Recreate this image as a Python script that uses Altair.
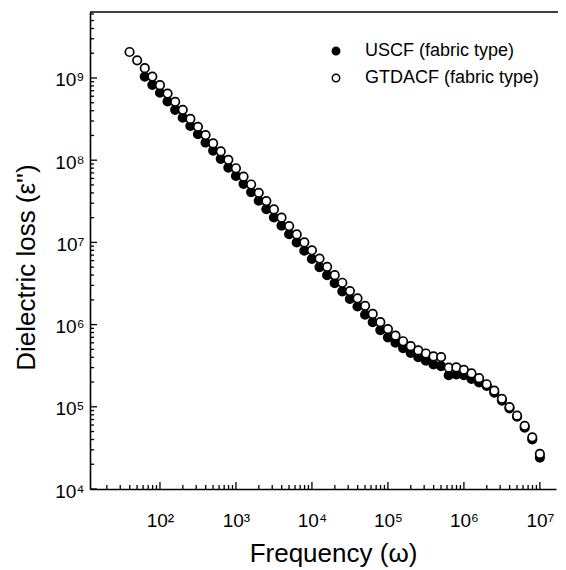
import altair as alt
import pandas as pd

# Frequencies (omega), 10 points per decade
freq = [39.8, 50.1, 63.1, 79.4,
        100, 125.9, 158.5, 199.5, 251.2, 316.2, 398.1, 501.2, 631.0, 794.3,
        1.0e3, 1.259e3, 1.585e3, 1.995e3, 2.512e3, 3.162e3, 3.981e3, 5.012e3, 6.310e3, 7.943e3,
        1.0e4, 1.259e4, 1.585e4, 1.995e4, 2.512e4, 3.162e4, 3.981e4, 5.012e4, 6.310e4, 7.943e4,
        1.0e5, 1.259e5, 1.585e5, 1.995e5, 2.512e5, 3.162e5, 3.981e5, 5.012e5, 6.310e5, 7.943e5,
        1.0e6, 1.259e6, 1.585e6, 1.995e6, 2.512e6, 3.162e6, 3.981e6, 5.012e6, 6.310e6, 7.943e6,
        1.0e7]

# GTDACF (open circles), all 55 frequencies
gtdacf = [2.07e9, 1.64e9, 1.315e9, 1.04e9,
          8.17e8, 6.47e8, 5.13e8, 4.10e8, 3.18e8, 2.55e8, 2.02e8, 1.60e8, 1.28e8, 1.01e8,
          7.98e7, 6.31e7, 5.06e7, 4.01e7, 3.18e7, 2.52e7, 2.00e7, 1.58e7, 1.25e7, 1.00e7,
          8.02e6, 6.35e6, 5.04e6, 3.99e6, 3.23e6, 2.56e6, 2.09e6, 1.69e6, 1.35e6, 1.07e6,
          8.81e5, 7.33e5, 6.27e5, 5.47e5, 4.85e5, 4.45e5, 4.10e5, 4.03e5, 2.99e5, 3.01e5,
          2.82e5, 2.55e5, 2.23e5, 1.88e5, 1.57e5, 1.25e5, 9.93e4, 7.80e4, 5.87e4, 4.25e4,
          2.67e4]

# USCF (filled circles), starting at the third frequency
uscf_freq = freq[2:]
uscf = [1.04e9, 8.26e8,
        6.61e8, 5.18e8, 4.10e8, 3.29e8, 2.61e8, 2.07e8, 1.64e8, 1.31e8, 1.04e8, 8.13e7,
        6.44e7, 5.16e7, 4.09e7, 3.21e7, 2.54e7, 2.01e7, 1.60e7, 1.26e7, 1.00e7, 7.94e6,
        6.30e6, 4.99e6, 3.99e6, 3.19e6, 2.53e6, 2.05e6, 1.66e6, 1.32e6, 1.07e6, 8.57e5,
        7.00e5, 6.01e5, 5.18e5, 4.53e5, 4.02e5, 3.63e5, 3.28e5, 3.12e5, 2.42e5, 2.47e5,
        2.42e5, 2.19e5, 1.98e5, 1.79e5, 1.49e5, 1.19e5, 9.55e4, 7.57e4, 5.58e4, 4.00e4,
        2.41e4]

series_names = ["USCF (fabric type)", "GTDACF (fabric type)"]

x_major = [1e2, 1e3, 1e4, 1e5, 1e6, 1e7]
x_minor = [m * 10 ** k for k in range(1, 7) for m in range(2, 10)]
y_major = [1e4, 1e5, 1e6, 1e7, 1e8, 1e9]
y_minor = [m * 10 ** k for k in range(4, 10) for m in range(2, 10) if m * 10 ** k < 6.3e9]

df = pd.DataFrame({
    "freq": list(uscf_freq) + list(freq),
    "loss": uscf + gtdacf,
    "series": [series_names[0]] * len(uscf) + [series_names[1]] * len(gtdacf),
})

W, H = 466, 477
FONT = "Liberation Sans"
xscale = alt.Scale(type="log", domain=[12.0, 1.63e7], nice=False)
yscale = alt.Scale(type="log", domain=[1e4, 6.35e9], nice=False)

sups = {2: "\u00b2", 3: "\u00b3", 4: "\u2074", 5: "\u2075", 6: "\u2076",
        7: "\u2077", 8: "\u2078", 9: "\u2079"}
label_expr = ""
for k in range(2, 10):
    label_expr += f"datum.value < {1.5 * 10 ** k} ? '10{sups[k]}' : "
label_expr += "''"

xaxis = alt.Axis(
    values=x_major, labelExpr=label_expr, ticks=False, grid=False,
    domainColor="black", domainWidth=1.6, labelFontSize=19, labelColor="black",
    labelBaseline="alphabetic", labelPadding=37, labelFlush=False,
    title="Frequency (\u03c9)", titleFontSize=26, titleFontWeight="normal",
    titleColor="black", titleBaseline="alphabetic", titleX=243, titleY=72,
    titleAlign="center")
yaxis = alt.Axis(
    values=y_major, labelExpr=label_expr, ticks=False, grid=False,
    domainColor="black", domainWidth=1.6, labelFontSize=19, labelColor="black",
    labelBaseline="alphabetic", labelOffset=8, labelPadding=6, labelFlush=False,
    title="Dielectric loss (\u03b5'')", titleFontSize=26, titleFontWeight="normal",
    titleColor="black", titleBaseline="alphabetic", titleAngle=-90,
    titleX=-56, titleY=255, titleAlign="center")

points = alt.Chart(df).mark_point(
    filled=True, size=72, stroke="black", strokeWidth=1.7, opacity=1
).encode(
    x=alt.X("freq:Q", scale=xscale, axis=xaxis),
    y=alt.Y("loss:Q", scale=yscale, axis=yaxis),
    fill=alt.Fill("series:N", scale=alt.Scale(domain=series_names, range=["black", "white"]),
                  legend=alt.Legend(title=None, orient="none", legendX=237, legendY=30,
                                    labelFontSize=18, labelFont=FONT, labelColor="black",
                                    labelLimit=0,
                                    symbolType="circle", symbolSize=55, symbolStrokeWidth=1.5,
                                    symbolStrokeColor="black", rowPadding=9, labelOffset=20)),
)

def xticks(vals, length):
    return alt.Chart(pd.DataFrame({"freq": vals})).mark_rule(color="black", strokeWidth=1.3).encode(
        x=alt.X("freq:Q", scale=xscale, axis=xaxis), y=alt.value(H), y2=alt.value(H - length))

def yticks(vals, length):
    return alt.Chart(pd.DataFrame({"loss": vals})).mark_rule(color="black", strokeWidth=1.3).encode(
        y=alt.Y("loss:Q", scale=yscale, axis=yaxis), x=alt.value(0), x2=alt.value(length))

top_rule = alt.Chart(pd.DataFrame({"a": [0]})).mark_rule(color="black", strokeWidth=1.6).encode(
    x=alt.value(0), x2=alt.value(W + 2), y=alt.value(0))

chart = alt.layer(
    points, xticks(x_minor, 4), xticks(x_major, 7), yticks(y_minor, 4), yticks(y_major, 7),
    top_rule
).properties(
    width=W, height=H,
    padding={"left": 82, "top": 4, "right": 2, "bottom": 78},
    autosize=alt.AutoSizeParams(type="none"),
).configure_view(stroke=None).configure_axis(labelFont=FONT, titleFont=FONT)

chart.save("out.html", embed_options={"renderer": "svg", "actions": False})
